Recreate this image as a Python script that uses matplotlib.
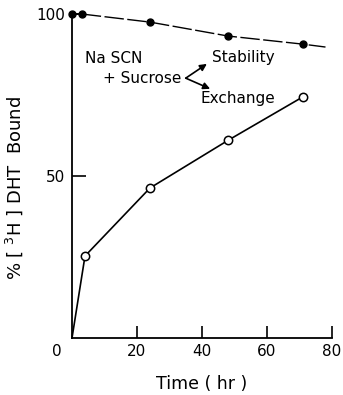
import matplotlib
matplotlib.use("Agg")
import matplotlib.pyplot as plt

# Data
stab_t = [0, 3, 24, 48, 71]
stab_y = [100, 100, 97.5, 93.2, 90.7]
stab_ext_t = [71, 78]
stab_ext_y = [90.7, 89.8]
exch_t = [0, 4, 24, 48, 71]
exch_y = [0, 25.3, 46.3, 61, 74.4]
xticks = [20, 40, 60, 80]
yticks = [50, 100]

plt.rcParams['font.family'] = ['DejaVu Sans']
fig = plt.figure(figsize=(3.43, 3.95), dpi=100)
ax = fig.add_axes([72/343, 1-338/395, (332-72)/343, (338-14)/395])
ax.set_xlim(0, 80)
ax.set_ylim(0, 100)
for s in ['top', 'right']:
    ax.spines[s].set_visible(False)
for s in ['left', 'bottom']:
    ax.spines[s].set_linewidth(1.3)

# Stability (filled circles, dashed)
ax.plot(stab_t[:2], stab_y[:2], color='black', lw=1.3, clip_on=False)
ax.plot(stab_t[1:] + stab_ext_t[1:], stab_y[1:] + stab_ext_y[1:], color='black', lw=1.0,
        dashes=(14, 2.5), clip_on=False)
ax.plot(stab_t, stab_y, 'o', color='black', ms=5, clip_on=False, zorder=5)

# Exchange (open circles, solid)
ax.plot(exch_t, exch_y, color='black', lw=1.2, clip_on=False)
ax.plot(exch_t[1:], exch_y[1:], 'o', mfc='white', mec='black', mew=1.1, ms=6,
        clip_on=False, zorder=5)

ax.set_xticks(xticks)
ax.set_xticklabels([str(v) for v in xticks])
ax.set_yticks(yticks)
ax.set_yticklabels([str(v) for v in yticks])
ax.tick_params(axis='x', direction='in', length=9, width=1.2, labelsize=11, pad=4)
ax.tick_params(axis='y', direction='in', length=10, width=1.2, labelsize=11, pad=5)
ax.annotate('0', xy=(0, 0), xycoords=('data', 'axes fraction'), xytext=(-11, -4),
            textcoords='offset points', ha='center', va='top', fontsize=11)

ax.set_xlabel('Time ( hr )', fontsize=12.5, labelpad=12)
ax.set_ylabel(r'% [ $^{3}$H ] DHT  Bound', fontsize=13)
ax.yaxis.set_label_coords(-0.18, 0.463)

fs = 11
ax.text(4, 86.4, 'Na SCN', fontsize=fs, va='center', ha='left')
ax.text(9.5, 80.2, '+ Sucrose', fontsize=fs, va='center', ha='left')
ax.text(43, 86.7, 'Stability', fontsize=fs, va='center', ha='left')
ax.text(39.4, 73.8, 'Exchange', fontsize=fs, va='center', ha='left')
ax.annotate('', xy=(41.5, 84.6), xytext=(35, 80.2),
            arrowprops=dict(arrowstyle='-|>', color='black', lw=1.2, mutation_scale=10,
                            shrinkA=0, shrinkB=0))
ax.annotate('', xy=(42.5, 76.9), xytext=(35, 80.2),
            arrowprops=dict(arrowstyle='-|>', color='black', lw=1.2, mutation_scale=10,
                            shrinkA=0, shrinkB=0))

fig.savefig('out.png', dpi=100)
